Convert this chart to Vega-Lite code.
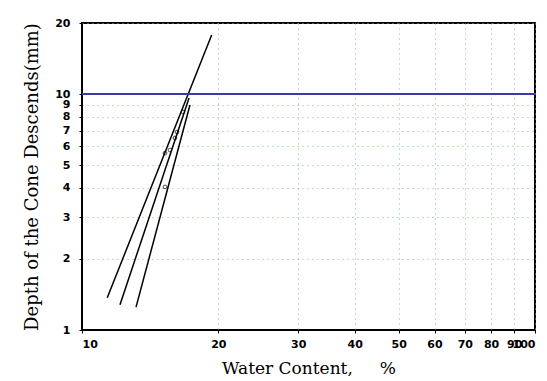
{
  "$schema": "https://vega.github.io/schema/vega-lite/v6.json",
  "width": 453,
  "height": 307,
  "autosize": {"type": "none"},
  "padding": {"left": 82, "top": 23, "right": 12, "bottom": 51},
  "background": "white",
  "config": {
    "view": {"stroke": "black", "strokeWidth": 2},
    "axis": {
      "labelFont": "DejaVu Sans",
      "labelFontWeight": "bold",
      "labelFontSize": 11,
      "labelColor": "black",
      "titleFont": "DejaVu Serif",
      "titleFontWeight": "normal",
      "titleColor": "black",
      "domainColor": "black",
      "tickColor": "black",
      "gridColor": "#7cc87c",
      "gridDash": [1, 4],
      "gridWidth": 1,
      "labelOverlap": false
    }
  },
  "datasets": {
    "lines": [
      {"test": "A", "water": 11.37, "depth": 1.37},
      {"test": "A", "water": 19.33, "depth": 17.78},
      {"test": "B", "water": 12.13, "depth": 1.28},
      {"test": "B", "water": 17.23, "depth": 9.62},
      {"test": "C", "water": 13.16, "depth": 1.25},
      {"test": "C", "water": 17.31, "depth": 8.98}
    ],
    "points": [
      {"water": 15.25, "depth": 4.04},
      {"water": 15.25, "depth": 5.62},
      {"water": 15.64, "depth": 5.79},
      {"water": 16.04, "depth": 6.51},
      {"water": 16.21, "depth": 6.9},
      {"water": 16.71, "depth": 8.39}
    ],
    "limit": [{"depth": 10}]
  },
  "layer": [
    {
      "data": {"name": "lines"},
      "mark": {"type": "line", "color": "black", "strokeWidth": 1.5},
      "encoding": {
        "x": {
          "field": "water", "type": "quantitative",
          "scale": {"type": "log", "domain": [10, 100], "nice": false},
          "axis": {
            "title": "Water Content,\u00a0\u00a0\u00a0\u00a0\u00a0%",
            "titleFontSize": 17,
            "values": [10, 20, 30, 40, 50, 60, 70, 80, 90, 100],
            "tickSize": 3,
            "labelPadding": 5,
            "titlePadding": 11,
            "grid": true
          }
        },
        "y": {
          "field": "depth", "type": "quantitative",
          "scale": {"type": "log", "domain": [1, 20], "nice": false},
          "axis": {
            "title": "Depth of the Cone Descends(mm)",
            "titleFontSize": 18,
            "values": [1, 2, 3, 4, 5, 6, 7, 8, 9, 10, 20],
            "tickSize": 3,
            "labelPadding": 9,
            "titlePadding": 13,
            "grid": true
          }
        },
        "detail": {"field": "test", "type": "nominal"}
      }
    },
    {
      "data": {"name": "points"},
      "mark": {"type": "point", "shape": "circle", "filled": false, "color": "black", "size": 14, "strokeWidth": 1},
      "encoding": {
        "x": {"field": "water", "type": "quantitative"},
        "y": {"field": "depth", "type": "quantitative"}
      }
    },
    {
      "data": {"name": "limit"},
      "mark": {"type": "rule", "color": "#3a3aa8", "strokeWidth": 2},
      "encoding": {
        "y": {"field": "depth", "type": "quantitative"}
      }
    }
  ]
}
